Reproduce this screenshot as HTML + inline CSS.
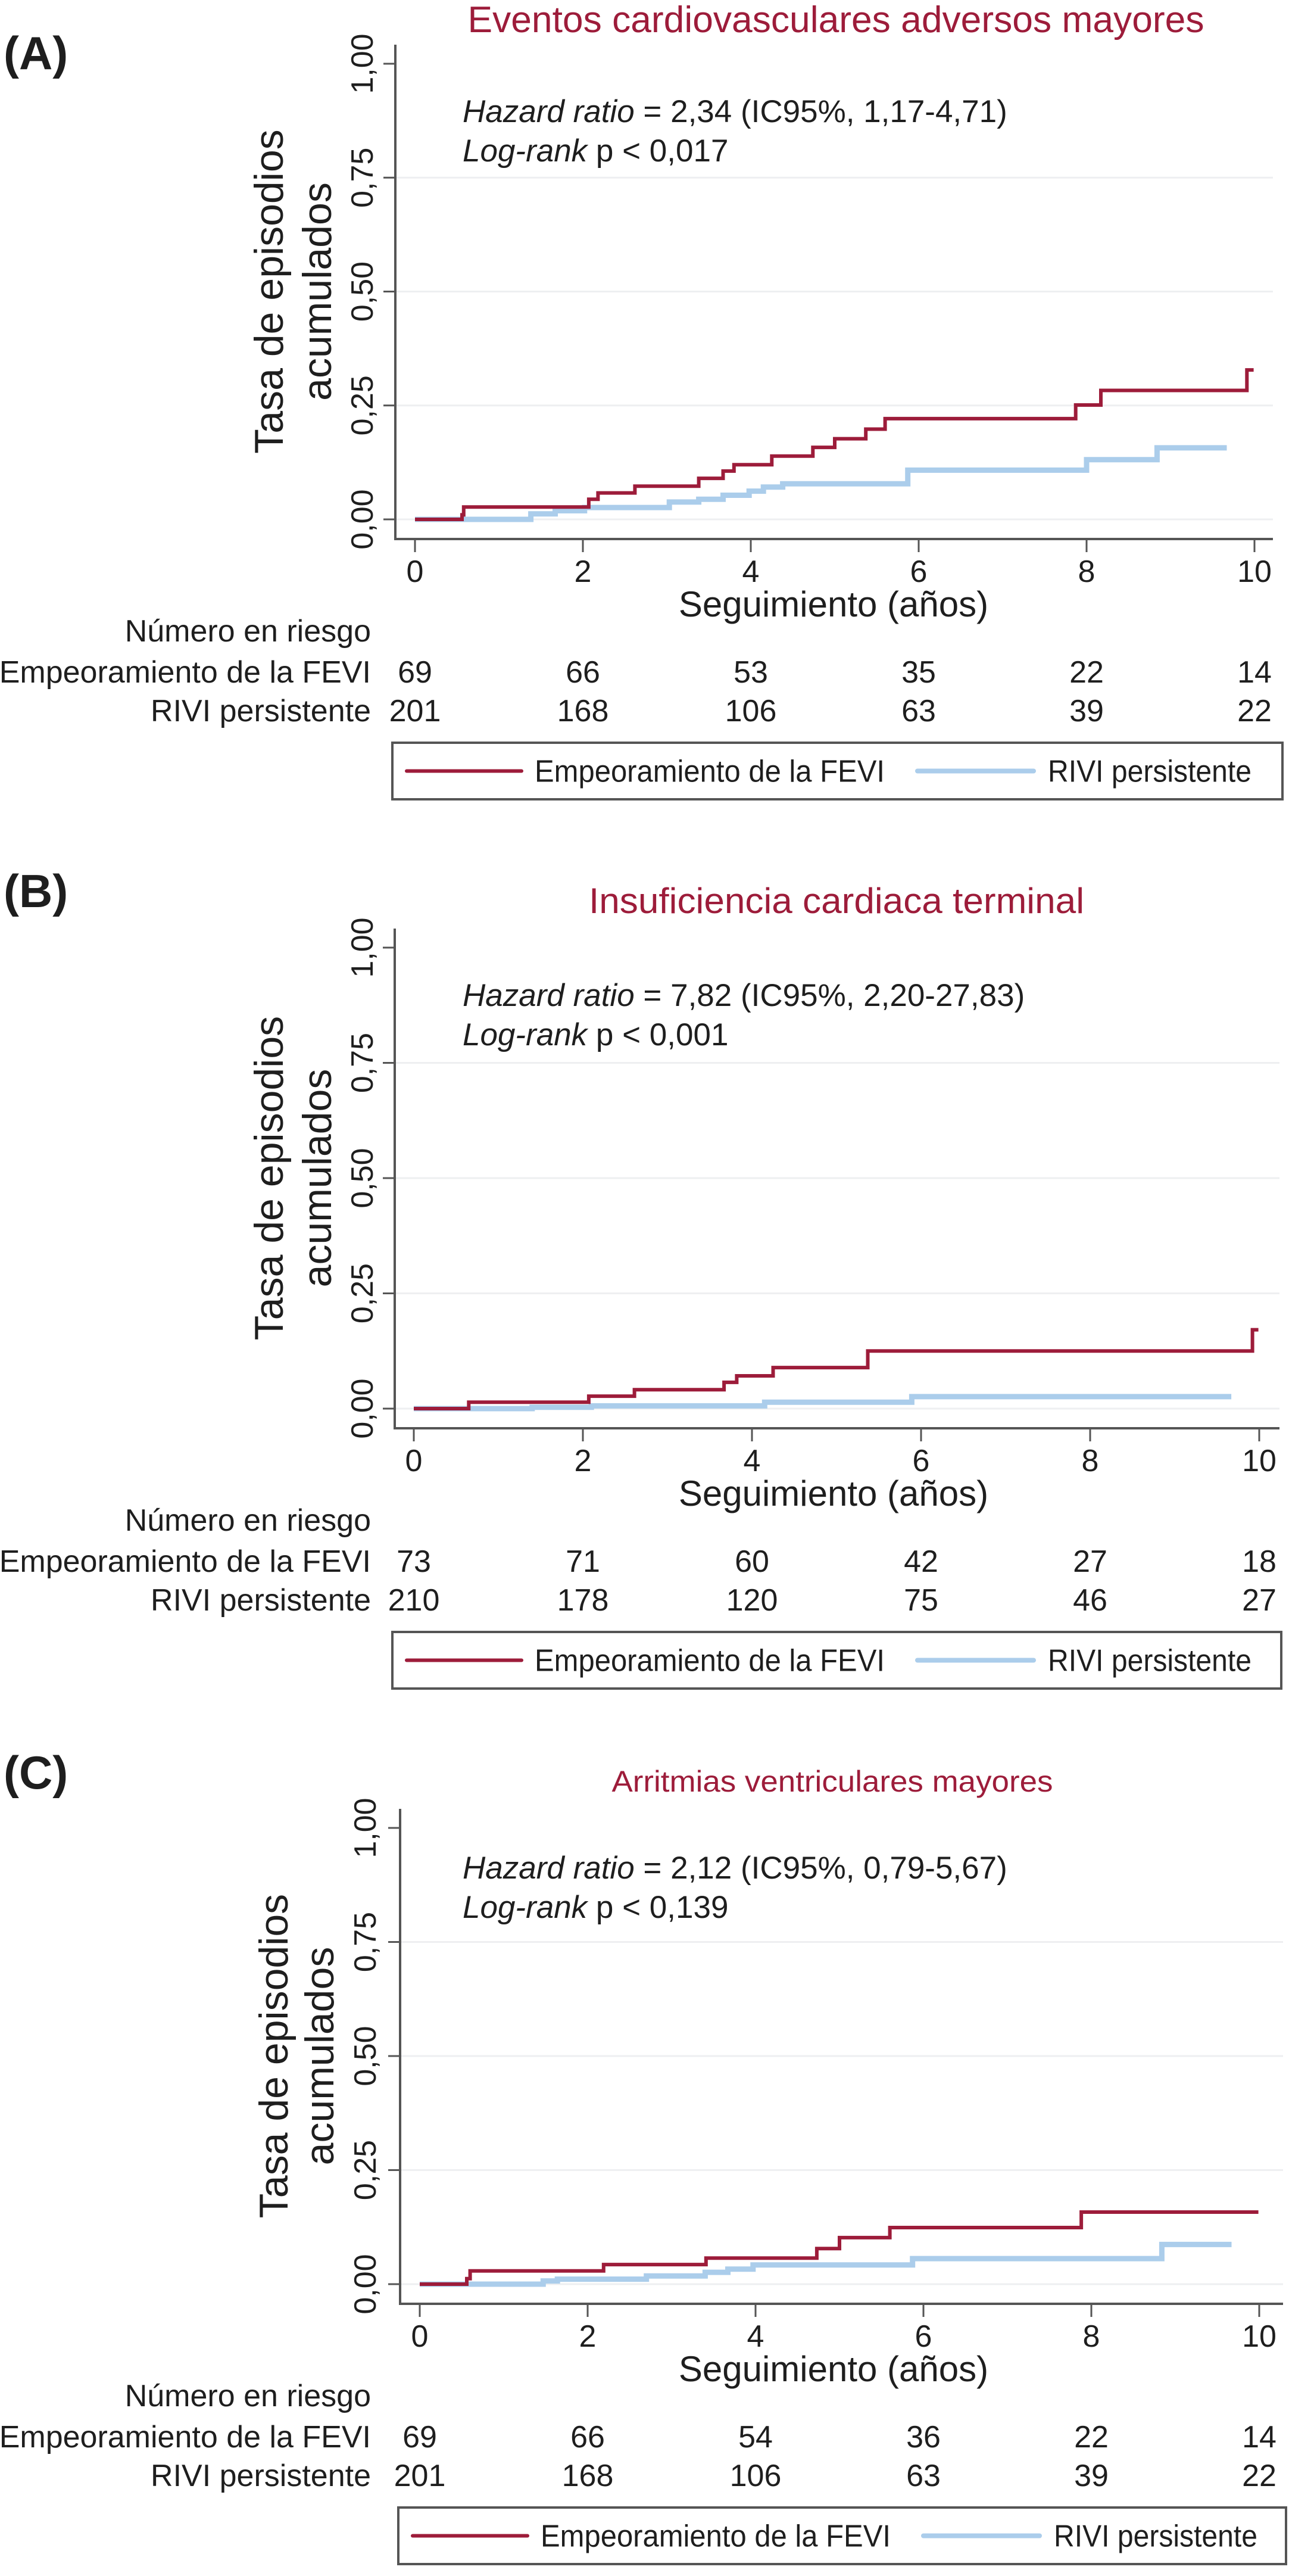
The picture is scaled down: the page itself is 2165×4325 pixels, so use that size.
<!DOCTYPE html>
<html><head><meta charset="utf-8"><title>Curvas de incidencia acumulada</title>
<style>
html,body{margin:0;padding:0;background:#fff;}
svg{display:block;font-family:"Liberation Sans",Arial,sans-serif;}
</style></head>
<body>
<svg id="fig" xmlns="http://www.w3.org/2000/svg" width="2165" height="4325" viewBox="0 0 2165 4325"></svg>
<script>
// ---- Data ----
const tickX = [0, 2, 4, 6, 8, 10];
const tickY = [0, 0.25, 0.5, 0.75, 1];
const tickYLabels = ["0,00", "0,25", "0,50", "0,75", "1,00"];

// Panel A
const aRedT = [0.56, 0.58, 2.07, 2.18, 2.62, 3.38, 3.67, 3.80, 4.25, 4.74, 5.00, 5.37, 5.60, 7.87, 8.17, 9.91];
const aRedV = [0.010, 0.027, 0.044, 0.058, 0.073, 0.090, 0.106, 0.120, 0.139, 0.158, 0.177, 0.198, 0.221, 0.251, 0.283, 0.328];
const aRedEnd = 9.99;
const aBlueT = [1.38, 1.67, 2.02, 3.03, 3.38, 3.67, 3.98, 4.15, 4.38, 5.87, 8.00, 8.84];
const aBlueV = [0.012, 0.019, 0.026, 0.038, 0.044, 0.053, 0.062, 0.071, 0.078, 0.108, 0.131, 0.157];
const aBlueEnd = 9.67;
const aRiskRed = [69, 66, 53, 35, 22, 14];
const aRiskBlue = [201, 168, 106, 63, 39, 22];

// Panel B
const bRedT = [0.65, 2.07, 2.61, 3.67, 3.82, 4.25, 5.37, 9.92];
const bRedV = [0.014, 0.027, 0.041, 0.057, 0.071, 0.089, 0.125, 0.171];
const bRedEnd = 9.99;
const bBlueT = [1.40, 2.10, 4.15, 5.89];
const bBlueV = [0.003, 0.006, 0.014, 0.026];
const bBlueEnd = 9.67;
const bRiskRed = [73, 71, 60, 42, 27, 18];
const bRiskBlue = [210, 178, 120, 75, 46, 27];

// Panel C
const cRedT = [0.56, 0.60, 2.19, 3.41, 4.73, 5.00, 5.60, 7.88];
const cRedV = [0.012, 0.029, 0.043, 0.057, 0.078, 0.102, 0.124, 0.158];
const cRedEnd = 9.99;
const cBlueT = [1.47, 1.64, 2.70, 3.40, 3.67, 3.97, 5.87, 8.84];
const cBlueV = [0.007, 0.011, 0.018, 0.026, 0.033, 0.042, 0.056, 0.087];
const cBlueEnd = 9.67;
const cRiskRed = [69, 66, 54, 36, 22, 14];
const cRiskBlue = [201, 168, 106, 63, 39, 22];

// ---- Rendering ----
const NS = "http://www.w3.org/2000/svg";
const svg = document.getElementById("fig");
const RED = "#9d1c3a", BLUE = "#abcdeb", TXT = "#1e1e1e", AX = "#555";

function mk(tag, attrs, parent, text) {
  const e = document.createElementNS(NS, tag);
  for (const k in attrs) e.setAttribute(k, attrs[k]);
  if (text !== undefined) e.textContent = text;
  (parent || svg).appendChild(e);
  return e;
}

function stepPath(T, V, end, sx, sy) {
  let d = "M" + sx(0) + "," + sy(0);
  for (let i = 0; i < T.length; i++) {
    d += " H" + sx(T[i]).toFixed(1) + " V" + sy(V[i]).toFixed(1);
  }
  d += " H" + sx(end).toFixed(1);
  return d;
}

function panel(L, D) {
  const g = mk("g", {});
  
  
  const sx = t => L.x0 + (L.x10 - L.x0) * t / 10;
  const sy = v => L.y0 - (L.y0 - L.y1) * v;

  let e = mk("text", {x: 6, y: L.labY, "font-size": 78, "font-weight": "bold", fill: TXT}, g, L.letter);
  
  

  e = mk("text", {x: L.titleX, y: L.titleY, "font-size": L.titleSize, fill: RED, "text-anchor": "middle", textLength: L.titleW, lengthAdjust: "spacingAndGlyphs"}, g, L.title);
  
  

  // gridlines
  tickY.forEach(v => {
    if (v === 1) return;
    const l = mk("line", {x1: L.yax, x2: L.axR, y1: sy(v), y2: sy(v), stroke: "#eeeff1", "stroke-width": 3}, g);
    
    
  });

  // y axis
  e = mk("line", {x1: L.yax, x2: L.yax, y1: L.y1 - 32, y2: L.y0 + 35, stroke: AX, "stroke-width": 4}, g);
  
  
  tickY.forEach((v, i) => {
    const t = mk("line", {x1: L.yax - 20, x2: L.yax, y1: sy(v), y2: sy(v), stroke: AX, "stroke-width": 3}, g);
    
    
    const tx = L.ytlX, ty = sy(v);
    const lb = mk("text", {x: tx, y: ty, "font-size": 52, fill: TXT, "text-anchor": "middle", "dominant-baseline": "central", transform: "rotate(-90 " + tx + " " + ty + ")"}, g, tickYLabels[i]);
    
    
  });
  const ym = (L.y0 + L.y1) / 2;
  e = mk("text", {x: L.yl1, y: ym, "font-size": 68, fill: TXT, "text-anchor": "middle", "dominant-baseline": "central", transform: "rotate(-90 " + L.yl1 + " " + ym + ")"}, g, "Tasa de episodios");
  
  
  e = mk("text", {x: L.yl2, y: ym, "font-size": 68, fill: TXT, "text-anchor": "middle", "dominant-baseline": "central", transform: "rotate(-90 " + L.yl2 + " " + ym + ")"}, g, "acumulados");
  
  

  // x axis
  const xa = L.y0 + 33;
  e = mk("line", {x1: L.yax - 2, x2: L.axR, y1: xa, y2: xa, stroke: AX, "stroke-width": 4}, g);
  
  
  tickX.forEach(t => {
    const k = mk("line", {x1: sx(t), x2: sx(t), y1: xa, y2: xa + 22, stroke: AX, "stroke-width": 3}, g);
    
    
    const lb = mk("text", {x: sx(t), y: L.y0 + 105, "font-size": 52, fill: TXT, "text-anchor": "middle"}, g, String(t));
    
    
  });
  e = mk("text", {x: 1400, y: L.y0 + 163, "font-size": 60, fill: TXT, "text-anchor": "middle"}, g, "Seguimiento (años)");
  
  

  // annotation
  const an = mk("text", {x: 777, y: L.hzY, "font-size": 53, fill: TXT}, g);
  
  
  mk("tspan", {"font-style": "italic"}, an, "Hazard ratio");
  mk("tspan", {}, an, " = " + L.hr);
  const an2 = mk("text", {x: 777, y: L.hzY + 66, "font-size": 53, fill: TXT}, g);
  
  
  mk("tspan", {"font-style": "italic"}, an2, "Log-rank");
  mk("tspan", {}, an2, " p < " + L.p);

  // curves
  e = mk("path", {d: stepPath(D.bT, D.bV, D.bEnd, sx, sy), fill: "none", stroke: BLUE, "stroke-width": 9}, g);
  
  
  e = mk("path", {d: stepPath(D.rT, D.rV, D.rEnd, sx, sy), fill: "none", stroke: RED, "stroke-width": 6}, g);
  
  

  // risk table
  e = mk("text", {x: 623, y: L.y0 + 205, "font-size": 52, fill: TXT, "text-anchor": "end"}, g, "Número en riesgo");
  
  
  e = mk("text", {x: 623, y: L.y0 + 274, "font-size": 52, fill: TXT, "text-anchor": "end"}, g, "Empeoramiento de la FEVI");
  
  
  e = mk("text", {x: 623, y: L.y0 + 339, "font-size": 52, fill: TXT, "text-anchor": "end"}, g, "RIVI persistente");
  
  
  tickX.forEach((t, i) => {
    const a = mk("text", {x: sx(t), y: L.y0 + 274, "font-size": 52, fill: TXT, "text-anchor": "middle"}, g, String(D.riskR[i]));
    
    
    const b = mk("text", {x: sx(t), y: L.y0 + 339, "font-size": 52, fill: TXT, "text-anchor": "middle"}, g, String(D.riskB[i]));
    
    
  });

  // legend
  const lt = L.y0 + 375, lb2 = L.y0 + 470, lm = (lt + lb2) / 2;
  const lg = mk("g", {}, g);
  
  
  e = mk("rect", {x: L.lgL, y: lt, width: L.lgR - L.lgL, height: lb2 - lt, fill: "#fff", stroke: "#555", "stroke-width": 4}, lg);
  
  
  const dx = L.lgL - 659;
  e = mk("line", {x1: 683 + dx, x2: 876 + dx, y1: lm, y2: lm, stroke: RED, "stroke-width": 6, "stroke-linecap": "round"}, lg);
  
  
  e = mk("text", {x: 898 + dx, y: lm + 18, "font-size": 52, fill: TXT, textLength: 588, lengthAdjust: "spacingAndGlyphs"}, lg, "Empeoramiento de la FEVI");
  
  
  e = mk("line", {x1: 1541 + dx, x2: 1736 + dx, y1: lm, y2: lm, stroke: BLUE, "stroke-width": 8, "stroke-linecap": "round"}, lg);
  
  
  e = mk("text", {x: 1760 + dx, y: lm + 18, "font-size": 52, fill: TXT, textLength: 342, lengthAdjust: "spacingAndGlyphs"}, lg, "RIVI persistente");
  
  
}

panel({name: "panel-a", letter: "(A)", labY: 116, title: "Eventos cardiovasculares adversos mayores",
  titleX: 1404, titleY: 54, titleSize: 62, titleW: 1237,
  x0: 697, x10: 2107, y0: 872, y1: 107, yax: 664, axR: 2138, ytlX: 609, yl1: 452, yl2: 533,
  hzY: 205, hr: "2,34 (IC95%, 1,17-4,71)", p: "0,017", lgL: 659, lgR: 2154},
  {rT: aRedT, rV: aRedV, rEnd: aRedEnd, bT: aBlueT, bV: aBlueV, bEnd: aBlueEnd, riskR: aRiskRed, riskB: aRiskBlue});

panel({name: "panel-b", letter: "(B)", labY: 1523, title: "Insuficiencia cardiaca terminal",
  titleX: 1405, titleY: 1533, titleSize: 60, titleW: 832,
  x0: 695, x10: 2115, y0: 2365, y1: 1591, yax: 663, axR: 2149, ytlX: 609, yl1: 452, yl2: 533,
  hzY: 1689, hr: "7,82 (IC95%, 2,20-27,83)", p: "0,001", lgL: 659, lgR: 2152},
  {rT: bRedT, rV: bRedV, rEnd: bRedEnd, bT: bBlueT, bV: bBlueV, bEnd: bBlueEnd, riskR: bRiskRed, riskB: bRiskBlue});

panel({name: "panel-c", letter: "(C)", labY: 3003, title: "Arritmias ventriculares mayores",
  titleX: 1398, titleY: 3008, titleSize: 50, titleW: 741,
  x0: 705, x10: 2115, y0: 3835, y1: 3069, yax: 672, axR: 2155, ytlX: 614, yl1: 460, yl2: 537,
  hzY: 3154, hr: "2,12 (IC95%, 0,79-5,67)", p: "0,139", lgL: 669, lgR: 2160},
  {rT: cRedT, rV: cRedV, rEnd: cRedEnd, bT: cBlueT, bV: cBlueV, bEnd: cBlueEnd, riskR: cRiskRed, riskB: cRiskBlue});
</script>
</body></html>
